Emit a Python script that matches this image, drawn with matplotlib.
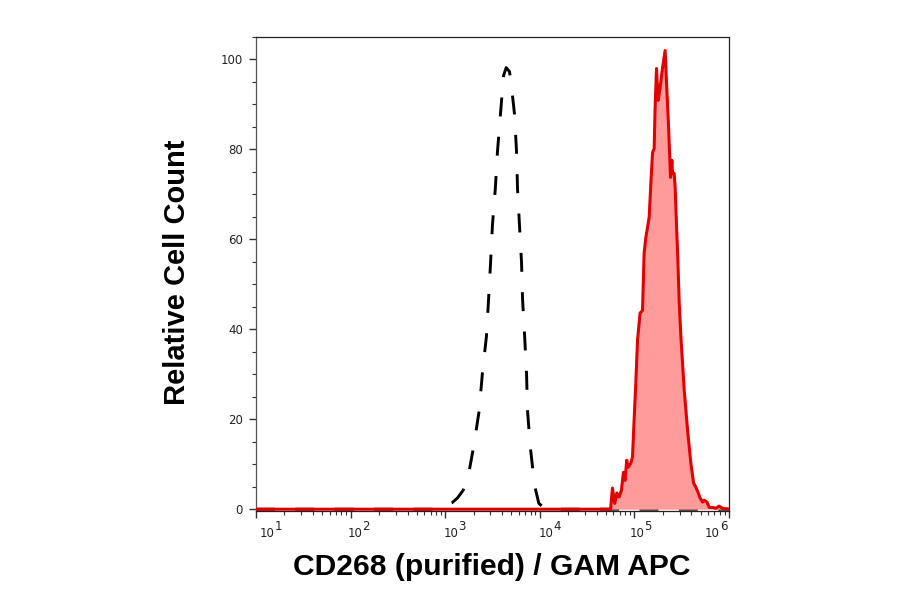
import numpy as np
from matplotlib import pyplot as plt
from matplotlib.ticker import MultipleLocator, NullFormatter, LogLocator

# histogram outlines, x as log10(fluorescence), y as relative count
isotype_log = [1.0, 2.90, 2.97, 3.07, 3.13, 3.19, 3.246, 3.30, 3.36, 3.394, 3.436,
               3.458, 3.48, 3.50, 3.53, 3.553, 3.585, 3.617, 3.645, 3.68, 3.70,
               3.733, 3.754, 3.765, 3.786, 3.807, 3.818, 3.84, 3.86, 3.87, 3.90,
               3.945, 3.99, 4.06, 6.0]
isotype_cnt = [0, 0, 0.6, 1.4, 2.5, 4.2, 7.6, 13.8, 22.0, 30.4, 38.4,
               46.4, 54.9, 63.3, 71.3, 79.6, 88.0, 96.4, 98.2, 97.3, 94.2,
               87.8, 79.6, 71.1, 62.9, 54.9, 46.7, 38.4, 30.2, 22.0, 13.8,
               5.3, 1.3, 0, 0]

cd268_log = [1.0, 4.748, 4.768, 4.792, 4.814, 4.838, 4.863, 4.884, 4.901, 4.919,
             4.933, 4.962, 4.980, 4.997, 5.015, 5.033, 5.060, 5.086, 5.103, 5.121,
             5.139, 5.156, 5.174, 5.192, 5.209, 5.219, 5.234, 5.251, 5.272, 5.298,
             5.325, 5.340, 5.357, 5.375, 5.382, 5.396, 5.403, 5.420, 5.431, 5.446,
             5.457, 5.474, 5.492, 5.527, 5.562, 5.597, 5.626, 5.650, 5.675, 5.696,
             5.721, 5.738, 5.767, 5.791, 5.827, 5.862, 5.894, 5.933, 6.0]
cd268_cnt = [0, 0, 4.7, 1.3, 3.6, 2.7, 4.2, 8.2, 6.4, 10.9,
             9.3, 10.2, 11.6, 19.8, 28.0, 37.6, 43.6, 44.2, 56.9, 60.4,
             62.7, 64.9, 72.4, 79.3, 80.2, 89.3, 98.0, 90.9, 93.8, 98.2,
             102.0, 94.7, 87.1, 77.6, 73.8, 77.6, 74.7, 74.7, 71.6, 62.7,
             56.9, 45.8, 38.2, 26.4, 17.6, 10.2, 5.8, 4.9, 3.6, 2.4,
             1.6, 2.0, 1.6, 0.4, 0.4, 0.2, 0.7, 0.2, 0]

decades = [1, 2, 3, 4, 5, 6]
yticks = [0, 20, 40, 60, 80, 100]

iso_x = 10 ** np.array(isotype_log)
cd_x = 10 ** np.array(cd268_log)

fig = plt.figure(figsize=(9, 5.94), dpi=100)
ax = fig.add_axes([0.2844, 0.1397, 0.5256, 0.798])

ax.plot(iso_x, isotype_cnt, color='black', lw=2.1, linestyle=(0, (6.5, 7)), zorder=2)
ax.fill_between(cd_x, 0, cd268_cnt, color='#ff9b9b', lw=0, zorder=3)
ax.plot(cd_x, cd268_cnt, color='#e00000', lw=2.2, zorder=4)

ax.set_xscale('log')
ax.set_xlim(10, 1e6)
ax.set_ylim(-0.4, 105)

ax.xaxis.set_major_locator(LogLocator(base=10, numticks=10))
ax.xaxis.set_minor_locator(LogLocator(base=10, subs=np.arange(2, 10), numticks=20))
ax.xaxis.set_major_formatter(NullFormatter())
ax.xaxis.set_minor_formatter(NullFormatter())

ax.set_yticks(yticks)
ax.yaxis.set_minor_locator(MultipleLocator(5))
ax.set_yticklabels([str(v) for v in yticks], fontsize=8.5, family='DejaVu Sans', color='#222222')

ax.tick_params(axis='both', which='major', length=5, width=1, color='#333333', pad=4.5)
ax.tick_params(axis='both', which='minor', length=3, width=0.8, color='#333333')

for s in ax.spines.values():
    s.set_linewidth(0.9)
    s.set_color('#222222')
ax.spines['left'].set_color('#555555')

# decade labels: "10" with a full size exponent
dx = [4, -3, -2, -1, -5, -24]
for k, off in zip(decades, dx):
    ax.annotate('10', xy=(10 ** k, 0), xycoords=('data', 'axes fraction'),
                xytext=(off, -16), textcoords='offset pixels',
                ha='left', va='top', fontsize=8.5, family='DejaVu Sans', color='#222222')
    ax.annotate(str(k), xy=(10 ** k, 0), xycoords=('data', 'axes fraction'),
                xytext=(off + 15, -9), textcoords='offset pixels',
                ha='left', va='top', fontsize=8.5, family='DejaVu Sans', color='#222222')

fig.text(0.5467, 0.045, 'CD268 (purified) / GAM APC', ha='center', va='center',
         fontsize=21.6, fontweight='bold', family='Liberation Sans')
fig.text(0.197, 0.542, 'Relative Cell Count', ha='center', va='center', rotation=90,
         fontsize=21, fontweight='bold', family='Liberation Sans')

fig.savefig('out.png', dpi=100)
